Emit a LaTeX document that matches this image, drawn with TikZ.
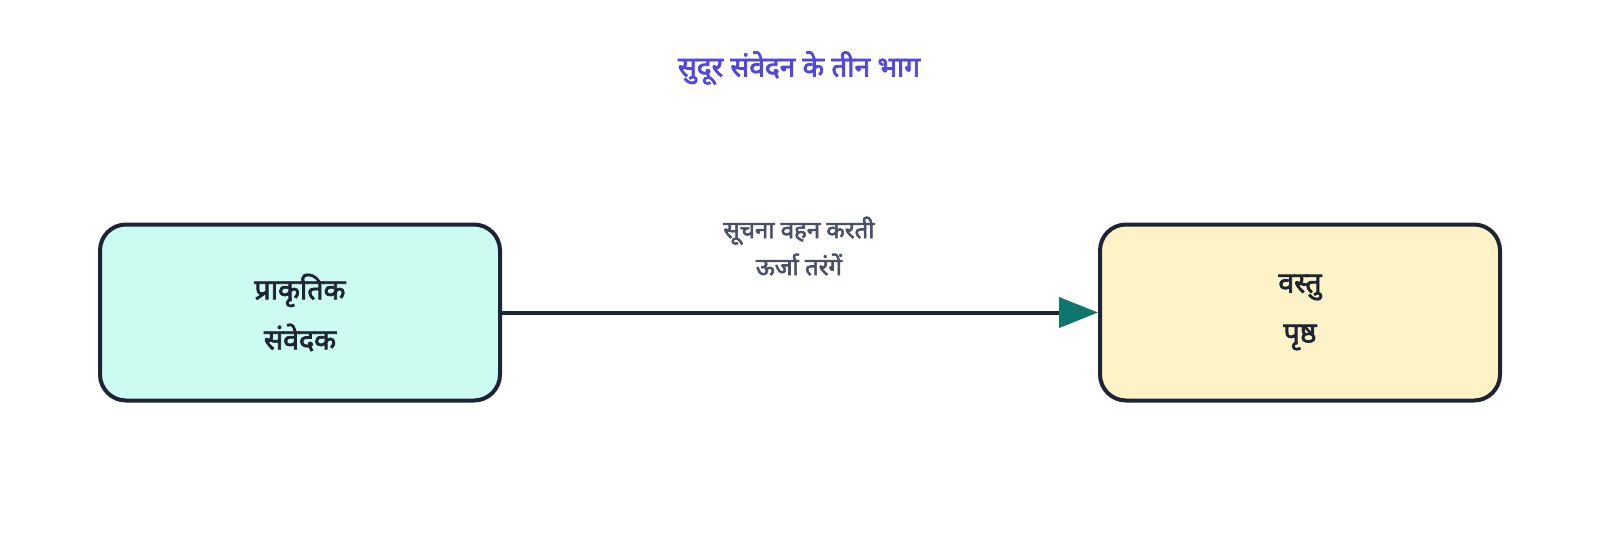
\documentclass[tikz,border=0pt]{standalone}
\usepackage{fontspec}
\setmainfont[Script=Devanagari, BoldFont={Noto Sans}, BoldFeatures={FakeBold=2.6}]{Noto Sans}
\usetikzlibrary{arrows.meta}
\definecolor{strokec}{HTML}{1E2433}
\definecolor{mintc}{HTML}{CCFBF1}
\definecolor{creamc}{HTML}{FEF3C7}
\definecolor{tealc}{HTML}{0F766E}
\definecolor{titlec}{HTML}{4F46E5}
\definecolor{labelc}{HTML}{4A5068}
\tikzset{
  box/.style={draw=strokec, line width=4pt, rounded corners=26pt, minimum width=400pt, minimum height=176pt, inner sep=0pt, align=center, font=\fontsize{28.5}{50}\selectfont\bfseries, text=strokec},
  conn/.style={draw=strokec, line width=4pt, -{Triangle[length=39pt,width=30pt,fill=tealc,color=tealc]}},
  lbl/.style={font=\fontsize{24}{37}\selectfont\bfseries, text=labelc, align=center},
}
\begin{document}
\begin{tikzpicture}[x=1pt,y=-1pt]
\useasboundingbox (0,0) rectangle (1600,550);
\node[font=\fontsize{28}{32}\selectfont\bfseries, text=titlec] (title) at (799,68) {सुदूर संवेदन के तीन भाग};
\node[box, fill=mintc] (a) at (300,312.5) {प्राकृतिक\\संवेदक};
\node[box, fill=creamc] (b) at (1300,312.5) {वस्तु\\पृष्ठ};
\draw[conn] (a.east) -- (b.west);
\node[lbl] (l) at (799,246) {सूचना वहन करती\\ऊर्जा तरंगें};
\end{tikzpicture}
\end{document}
